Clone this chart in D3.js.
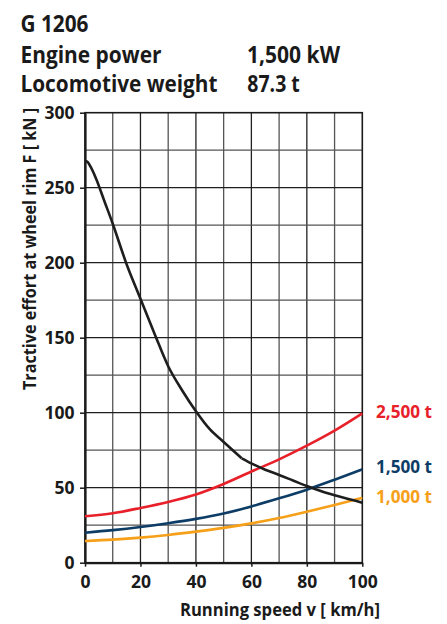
<!DOCTYPE html>
<html lang="en">
<head>
    <meta charset="UTF-8">
    <title>G 1206 tractive effort</title>
    <script src="https://d3js.org/d3.v7.min.js"></script>
    <style>
        body {
            margin: 0;
            background: #fff;
        }
        svg text {
            font-family: "Open Sans", Arial, sans-serif;
            font-weight: bold;
        }
    </style>
</head>
<body>
    <div id="chart"></div>

    <script>
        // Speed axis (km/h) shared by the train resistance curves
        const speeds = [0, 10, 20, 30, 40, 50, 60, 70, 80, 90, 100];

        // Train resistance for three trailing loads (kN)
        const force2500 = [31, 33, 36.5, 40.5, 45.5, 52.5, 60.8, 68.9, 78, 88, 99.5];
        const force1500 = [20, 21.7, 23.8, 26.3, 29.2, 32.8, 37.5, 42.9, 48.7, 55.3, 62.2];
        const force1000 = [14.5, 15.4, 16.7, 18.5, 20.7, 23.2, 26.2, 29.8, 34, 38.5, 43.3];

        // Tractive effort curve of the locomotive
        const effortSpeed = [0, 1, 2, 4, 7, 10, 15, 20, 25, 30, 35, 40, 45, 50, 56.5, 60, 65, 70, 75, 80, 85, 90, 95, 100];
        const effortForce = [268, 267, 264, 256, 241, 226, 199, 176, 153, 131, 115, 101, 89, 80.5, 69.6, 66.2, 62, 58.5, 54.8, 51.1, 47.8, 45, 42.5, 40];
        const kinkIndex = 14;

        const loadLabels = ["2,500 t", "1,500 t", "1,000 t"];
        const xTicks = [0, 20, 40, 60, 80, 100];
        const yTicks = [0, 50, 100, 150, 200, 250, 300];

        const width = 447, height = 624;
        const plotLeft = 85, plotRight = 362.3, plotTop = 112.7, plotBottom = 562.7;

        const svg = d3.select("#chart")
            .append("svg")
            .attr("width", width)
            .attr("height", height);

        const x = d3.scaleLinear().domain([0, 100]).range([plotLeft, plotRight]);
        const y = d3.scaleLinear().domain([0, 300]).range([plotBottom, plotTop]);

        // header
        const header = [
            { t: "G 1206", x: 20.5, y: 31.7, len: 68 },
            { t: "Engine power", x: 20.5, y: 62.7, len: 141 },
            { t: "1,500 kW", x: 247, y: 62.7, len: 93 },
            { t: "Locomotive weight", x: 20.5, y: 91.7, len: 197 },
            { t: "87.3 t", x: 247.3, y: 91.7, len: 52.5 }
        ];
        svg.selectAll(".head")
            .data(header)
            .enter().append("text")
            .attr("x", d => d.x)
            .attr("y", d => d.y)
            .attr("textLength", d => d.len)
            .attr("lengthAdjust", "spacingAndGlyphs")
            .attr("font-size", 23)
            .attr("fill", "#1a1a1a")
            .text(d => d.t);

        // grid
        const grid = svg.append("g");
        grid.selectAll(".vg")
            .data(d3.range(10, 100, 10))
            .enter().append("line")
            .attr("x1", d => x(d)).attr("x2", d => x(d))
            .attr("y1", plotTop).attr("y2", plotBottom)
            .attr("stroke", d => d % 20 === 0 ? "#222" : "#555")
            .attr("stroke-width", 1.3);
        grid.selectAll(".hg")
            .data(d3.range(25, 300, 25))
            .enter().append("line")
            .attr("x1", plotLeft).attr("x2", plotRight)
            .attr("y1", d => y(d)).attr("y2", d => y(d))
            .attr("stroke", d => d % 50 === 0 ? "#1f1f1f" : "#555")
            .attr("stroke-width", 1.3);

        svg.append("rect")
            .attr("x", plotLeft).attr("y", plotTop)
            .attr("width", plotRight - plotLeft).attr("height", plotBottom - plotTop)
            .attr("fill", "none")
            .attr("stroke", "#1a1a1a")
            .attr("stroke-width", 1.6);

        // axes
        const xAxis = svg.append("g")
            .attr("transform", `translate(0,${plotBottom})`)
            .call(d3.axisBottom(x).tickValues(xTicks).tickSize(4).tickPadding(8.5).tickSizeOuter(0));
        const yAxis = svg.append("g")
            .attr("transform", `translate(${plotLeft},0)`)
            .call(d3.axisLeft(y).tickValues(yTicks).tickSize(5).tickPadding(5.5).tickSizeOuter(0));

        [xAxis, yAxis].forEach(a => {
            a.select(".domain").attr("stroke", "#1a1a1a").attr("stroke-width", 2.2);
            a.selectAll(".tick line").attr("stroke", "#1a1a1a").attr("stroke-width", 1.5);
            a.selectAll(".tick text")
                .attr("font-size", 17.5)
                .attr("font-family", "'Open Sans', Arial, sans-serif")
                .attr("font-weight", "bold")
                .attr("fill", "#1a1a1a");
        });

        // resistance curves
        const line = d3.line()
            .x(d => x(d[0]))
            .y(d => y(d[1]))
            .curve(d3.curveMonotoneX);

        const loads = [
            { values: force2500, color: "#e8202a", label: loadLabels[0], ly: 418.3 },
            { values: force1500, color: "#0d3d66", label: loadLabels[1], ly: 473.3 },
            { values: force1000, color: "#f6a01a", label: loadLabels[2], ly: 503.3 }
        ];

        loads.forEach(s => {
            svg.append("path")
                .datum(speeds.map((v, i) => [v, s.values[i]]))
                .attr("fill", "none")
                .attr("stroke", s.color)
                .attr("stroke-width", 2.6)
                .attr("d", line);
            svg.append("text")
                .attr("x", 376)
                .attr("y", s.ly)
                .attr("font-size", 18)
                .attr("textLength", 56)
                .attr("lengthAdjust", "spacingAndGlyphs")
                .attr("fill", s.color)
                .text(s.label);
        });

        // tractive effort, drawn in two parts so the kink stays sharp
        const effort = effortSpeed.map((v, i) => [v, effortForce[i]]);
        [effort.slice(0, kinkIndex + 1), effort.slice(kinkIndex)].forEach(part => {
            svg.append("path")
                .datum(part)
                .attr("fill", "none")
                .attr("stroke", "#1e1e1e")
                .attr("stroke-width", 2.6)
                .attr("d", line);
        });

        // axis titles
        svg.append("text")
            .attr("x", 380)
            .attr("y", 616)
            .attr("text-anchor", "end")
            .attr("font-size", 17)
            .attr("textLength", 200)
            .attr("lengthAdjust", "spacingAndGlyphs")
            .attr("fill", "#1a1a1a")
            .text("Running speed v [ km/h]");

        svg.append("text")
            .attr("transform", "translate(36,108) rotate(-90)")
            .attr("text-anchor", "end")
            .attr("font-size", 17)
            .attr("textLength", 282)
            .attr("lengthAdjust", "spacingAndGlyphs")
            .attr("fill", "#1a1a1a")
            .text("Tractive effort at wheel rim F [ kN ]");
    </script>
</body>
</html>
